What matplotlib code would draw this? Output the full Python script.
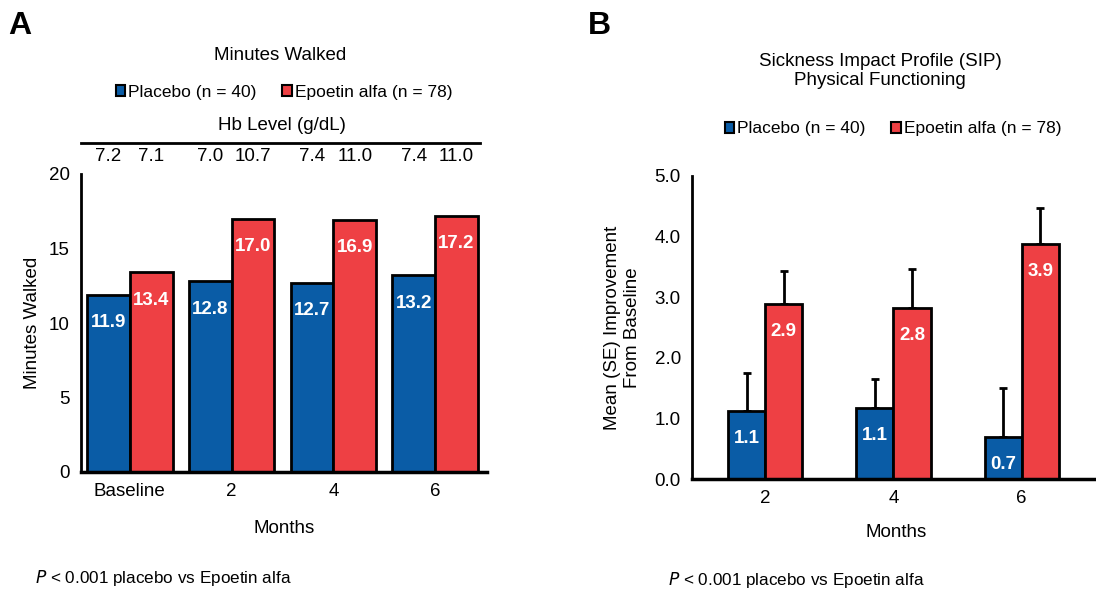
import matplotlib.pyplot as plt
import numpy as np
from matplotlib.patches import Patch
from matplotlib.lines import Line2D

plt.rcParams['font.family'] = ['Liberation Sans', 'DejaVu Sans']

# panel A data
months_a = ['Baseline', '2', '4', '6']
walk_placebo = [11.9, 12.8, 12.7, 13.2]
walk_epo = [13.4, 17.0, 16.9, 17.2]
hb_placebo = ['7.2', '7.0', '7.4', '7.4']
hb_epo = ['7.1', '10.7', '11.0', '11.0']

# panel B data
months_b = ['2', '4', '6']
sip_placebo = [1.13, 1.17, 0.69]
sip_epo = [2.89, 2.82, 3.88]
sip_placebo_se = [0.62, 0.48, 0.81]
sip_epo_se = [0.54, 0.65, 0.59]
sip_placebo_lbl = ['1.1', '1.1', '0.7']
sip_epo_lbl = ['2.9', '2.8', '3.9']

BLUE = '#0a5ca6'
RED = '#ee4044'
W, H = 1096, 592


def fx(px):
    return px / W


def fy(py):
    return 1 - py / H


fig = plt.figure(figsize=(10.96, 5.92), dpi=100)


def style_axes(ax):
    for s in ['top', 'right']:
        ax.spines[s].set_visible(False)
    ax.spines['left'].set_linewidth(2)
    ax.spines['bottom'].set_linewidth(2.5)
    ax.tick_params(axis='both', length=0, labelsize=13.5, pad=8)


def add_legend(x, y):
    handles = [Patch(facecolor=BLUE, edgecolor='black', lw=1.5),
               Patch(facecolor=RED, edgecolor='black', lw=1.5)]
    fig.legend(handles, ['Placebo (n = 40)', 'Epoetin alfa (n = 78)'],
               loc='center', bbox_to_anchor=(fx(x), fy(y)), ncol=2,
               frameon=False, fontsize=12.5, handlelength=0.55, handleheight=0.55,
               handletextpad=0.15, columnspacing=1.5)


def label_bars(ax, xs, vals, labels, off=-22):
    for x, v, t in zip(xs, vals, labels):
        ax.annotate(t, (x, v), xytext=(0, off), textcoords='offset points',
                    ha='center', va='center', color='white',
                    fontsize=13.5, fontweight='bold')


# ---------- panel A ----------
axa = fig.add_axes([fx(81), fy(472), fx(487 - 81), fy(174) - fy(472)])
style_axes(axa)
xa = np.arange(len(months_a))
wa = 0.42
axa.bar(xa - wa / 2, walk_placebo, wa, color=BLUE, edgecolor='black', lw=2)
axa.bar(xa + wa / 2, walk_epo, wa, color=RED, edgecolor='black', lw=2)
label_bars(axa, xa - wa / 2, walk_placebo, [f'{v:.1f}' for v in walk_placebo], -20)
label_bars(axa, xa + wa / 2, walk_epo, [f'{v:.1f}' for v in walk_epo], -20)
axa.set_xlim(-0.48, 3.51)
axa.set_ylim(0, 20)
axa.set_yticks([0, 5, 10, 15, 20])
axa.set_xticks(xa)
axa.set_xticklabels(months_a)
axa.set_ylabel('Minutes Walked', fontsize=13.5, labelpad=6)
axa.set_xlabel('Months', fontsize=13.5, labelpad=14)

# Hb level values above bars
trans = axa.get_xaxis_transform()
for i in range(len(months_a)):
    axa.text(xa[i] - wa / 2, 1.058, hb_placebo[i], transform=trans,
             ha='center', va='center', fontsize=13.5)
    axa.text(xa[i] + wa / 2, 1.058, hb_epo[i], transform=trans,
             ha='center', va='center', fontsize=13.5)
fig.add_artist(Line2D([fx(81), fx(480)], [fy(143), fy(143)], color='black', lw=2))
fig.text(fx(282), fy(125), 'Hb Level (g/dL)', ha='center', va='center', fontsize=13.5)
fig.text(fx(280), fy(55), 'Minutes Walked', ha='center', va='center', fontsize=13.5)
add_legend(284, 92)
fig.text(fx(8), fy(26), 'A', fontsize=23, fontweight='bold', va='center', ha='left')
fig.text(fx(35), fy(578), r'$\it{P}$ < 0.001 placebo vs Epoetin alfa',
         fontsize=12.3, va='center', ha='left')

# ---------- panel B ----------
axb = fig.add_axes([fx(692), fy(479), fx(1100 - 692), fy(176) - fy(479)])
style_axes(axb)
xb = np.arange(len(months_b))
wb = 0.29
axb.errorbar(xb - wb / 2, sip_placebo, yerr=[np.zeros(3), sip_placebo_se],
             fmt='none', ecolor='black', elinewidth=2, capsize=3, capthick=2, zorder=1)
axb.errorbar(xb + wb / 2, sip_epo, yerr=[np.zeros(3), sip_epo_se],
             fmt='none', ecolor='black', elinewidth=2, capsize=3, capthick=2, zorder=1)
axb.bar(xb - wb / 2, sip_placebo, wb, color=BLUE, edgecolor='black', lw=2, zorder=2)
axb.bar(xb + wb / 2, sip_epo, wb, color=RED, edgecolor='black', lw=2, zorder=2)
label_bars(axb, xb - wb / 2, sip_placebo, sip_placebo_lbl, -20)
label_bars(axb, xb + wb / 2, sip_epo, sip_epo_lbl, -20)
axb.set_xlim(-0.57, 2.61)
axb.set_ylim(0, 5)
axb.set_yticks(np.arange(0, 5.1, 1.0))
axb.set_yticklabels([f'{v:.1f}' for v in np.arange(0, 5.1, 1.0)])
axb.set_xticks(xb)
axb.set_xticklabels(months_b)
axb.set_ylabel('Mean (SE) Improvement\nFrom Baseline', fontsize=13.5, labelpad=10)
axb.set_xlabel('Months', fontsize=13.5, labelpad=12)

fig.text(fx(880), fy(71), 'Sickness Impact Profile (SIP)\nPhysical Functioning',
         ha='center', va='center', fontsize=13.5, linespacing=1.15)
add_legend(893, 129)
fig.text(fx(588), fy(26), 'B', fontsize=23, fontweight='bold', va='center', ha='left')
fig.text(fx(668), fy(580), r'$\it{P}$ < 0.001 placebo vs Epoetin alfa',
         fontsize=12.3, va='center', ha='left')

fig.savefig('out.png', dpi=100)
